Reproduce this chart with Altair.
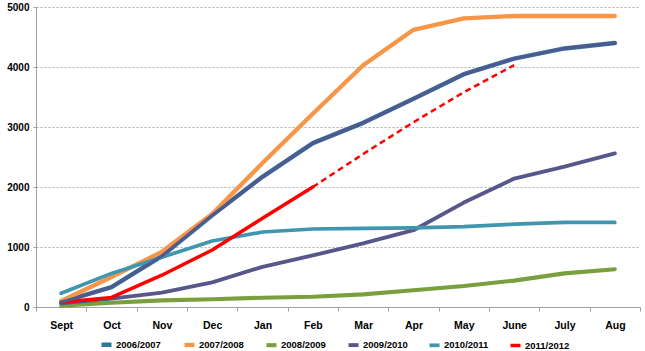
import altair as alt
import pandas as pd

months = ["Sept", "Oct", "Nov", "Dec", "Jan", "Feb", "Mar", "Apr", "May", "June", "July", "Aug"]
series_names = ["2006/2007", "2007/2008", "2008/2009", "2009/2010", "2010/2011", "2011/2012"]
s0607 = [80, 330, 850, 1530, 2170, 2730, 3070, 3470, 3880, 4140, 4310, 4400]
s0708 = [100, 500, 920, 1550, 2400, 3220, 4030, 4620, 4810, 4850, 4850, 4850]
s0809 = [20, 70, 110, 130, 155, 170, 210, 280, 350, 440, 560, 630]
s0910 = [60, 140, 240, 410, 670, 860, 1060, 1280, 1740, 2140, 2340, 2560]
s1011 = [230, 560, 830, 1100, 1250, 1300, 1310, 1320, 1340, 1380, 1410, 1410]
s1112 = [80, 160, 530, 950, 1480, 2000]
proj_months = ["Feb", "Mar", "Apr", "May", "June"]
s1112_proj = [2000, 2550, 3080, 3580, 4030]
y_ticks = list(range(0, 5001, 500))

colors = ["#31759A", "#F79646", "#7AA03E", "#57578A", "#3F96AE", "#FF0000"]
widths = [4.5, 3.5, 3.5, 3.5, 4.5, 4.5]

rows = []
for name, vals in zip(series_names, [s0607, s0708, s0809, s0910, s1011, s1112]):
    for m, v in zip(months, vals):
        rows.append({"month": m, "value": v, "series": name})
df = pd.DataFrame(rows)
proj = pd.DataFrame({"month": proj_months, "value": s1112_proj})

FONT = "Liberation Sans Narrow, Arial Narrow, Liberation Sans, sans-serif"

x_enc = alt.X(
    "month:N", sort=months,
    scale=alt.Scale(type="band", paddingInner=0, paddingOuter=0, domain=months),
    bandPosition=0.5,
    axis=alt.Axis(title=None, tickBand="extent", labelAngle=0, grid=False,
                  domainColor="#A0A0A0", tickColor="#A0A0A0", tickSize=4,
                  labelPadding=9, labelFont=FONT, labelFontWeight="bold",
                  labelFontSize=10.5, labelColor="#000000"),
)
y_enc = alt.Y(
    "value:Q",
    scale=alt.Scale(domain=[0, 5000], nice=False),
    axis=alt.Axis(title=None, values=y_ticks, format="d", grid=True, gridColor="#9A9A9A",
                  gridDash=[2, 2], gridWidth=0.8, domainColor="#A0A0A0",
                  tickColor="#A0A0A0", tickSize=3, labelPadding=4,
                  labelFont=FONT, labelFontWeight="bold", labelFontSize=10,
                  labelColor="#000000"),
)

main = alt.Chart(df).mark_line(strokeCap="round", strokeJoin="round").encode(
    x=x_enc,
    y=y_enc,
    color=alt.Color(
        "series:N",
        scale=alt.Scale(domain=series_names, range=colors),
        legend=alt.Legend(
            title=None, orient="none", legendX=63, legendY=330,
            direction="horizontal", columns=6, symbolType="stroke",
            symbolSize=100, symbolStrokeWidth=2, labelOffset=2,
            columnPadding=14, labelFont=FONT, labelFontWeight="bold",
            labelFontSize=9.5, labelColor="#000000",
        ),
    ),
    strokeWidth=alt.StrokeWidth("series:N", scale=alt.Scale(domain=series_names, range=widths), legend=None),
    order=alt.Order("series:N"),
)

overlay = alt.Chart(df[df["series"] == "2006/2007"]).mark_line(
    color="#4F5990", strokeWidth=3, strokeCap="round", strokeJoin="round"
).encode(x=alt.X("month:N", sort=months, bandPosition=0.5), y="value:Q")

dashed = alt.Chart(proj).mark_line(
    color="#FF0000", strokeWidth=2.5, strokeDash=[6, 4]
).encode(x=alt.X("month:N", sort=months, bandPosition=0.5), y="value:Q")

chart = alt.layer(main, overlay, dashed).properties(
    width=604, height=300,
    autosize=alt.AutoSizeParams(type="none"),
    padding={"left": 36, "top": 7, "right": 5, "bottom": 44},
    background="white",
).configure_view(stroke=None)

chart.save("out.html", embed_options={"renderer": "svg", "actions": False})
